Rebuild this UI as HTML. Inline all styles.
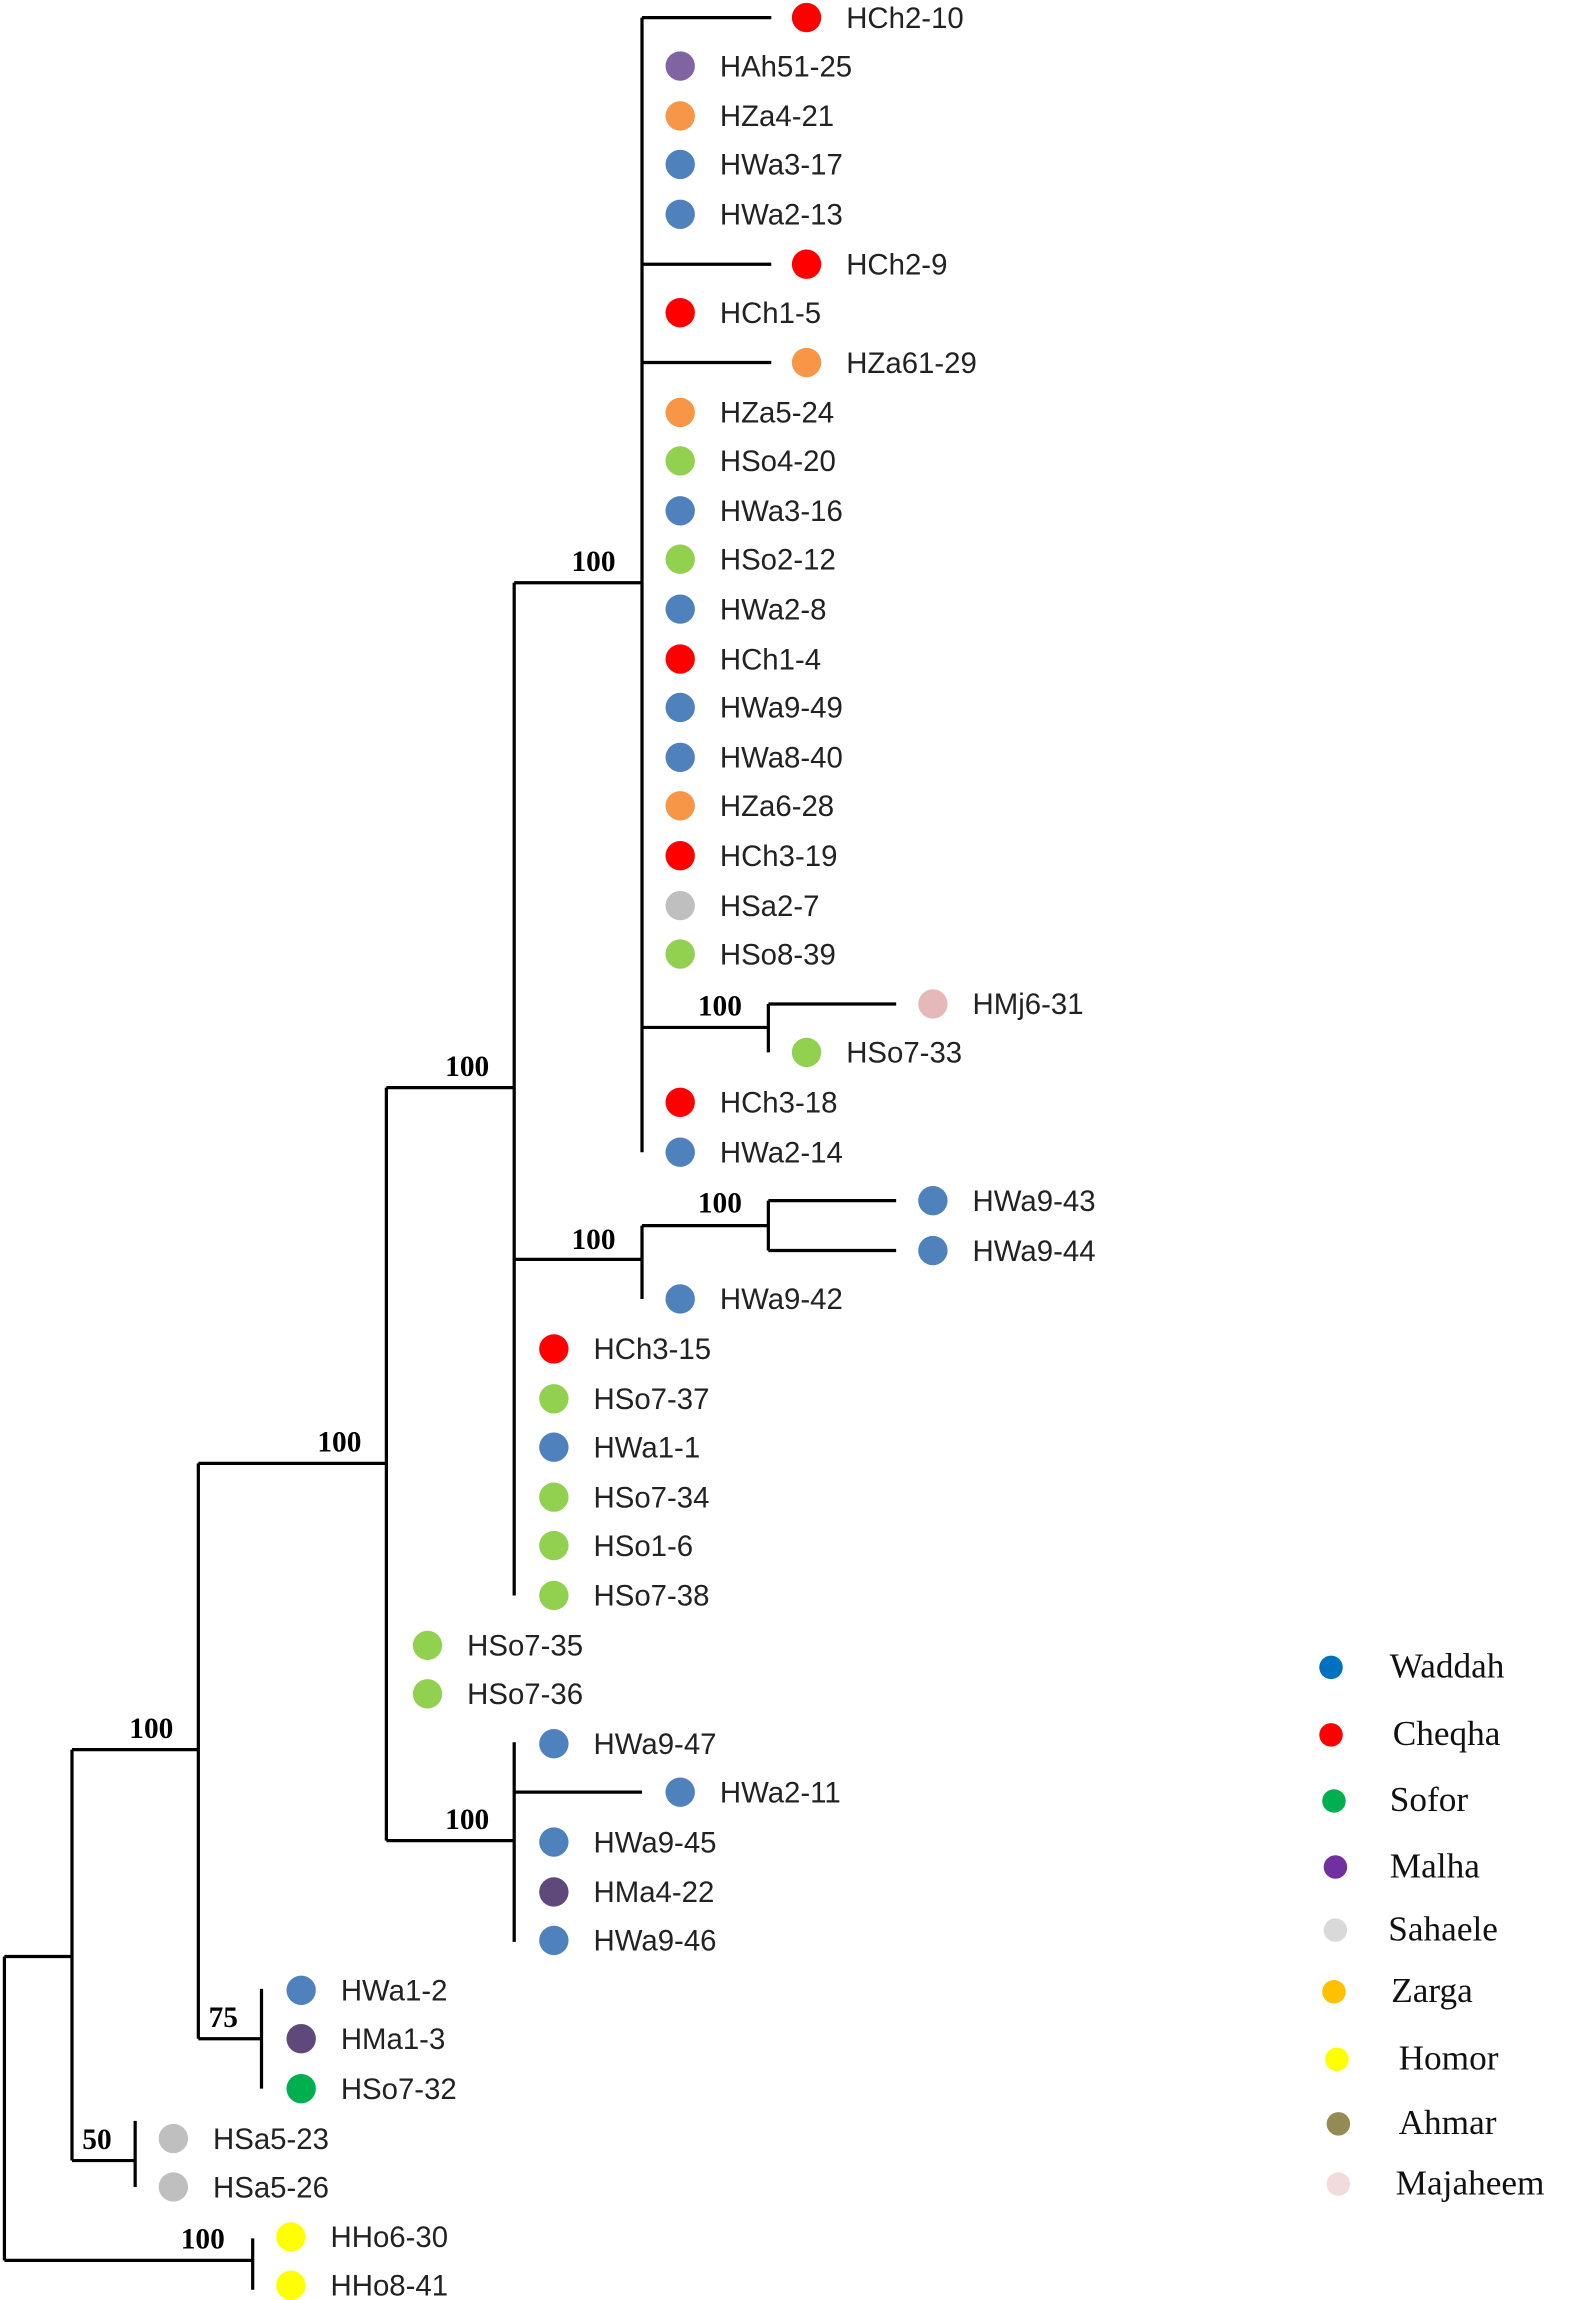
<!DOCTYPE html>
<html><head><meta charset="utf-8"><style>
html,body{margin:0;padding:0;background:#fff;}
svg{display:block;}
.l{font-family:"Liberation Sans",sans-serif;font-size:20px;fill:#222;}
.b{font-family:"Liberation Serif",serif;font-size:20px;font-weight:bold;fill:#000;}
.g{font-family:"Liberation Serif",serif;font-size:24px;fill:#111;}
</style></head><body>
<svg width="1594" height="2300" viewBox="0 0 1085 1567" preserveAspectRatio="none" xmlns="http://www.w3.org/2000/svg">
<g stroke="#000" stroke-width="2.2" fill="none">
<path d="M437 12V785M437 12H525M437 180H525M437 247H525M437 700H523M523 684V717M523 684H610"/>
<path d="M350 397H437M350 397V1087"/>
<path d="M350 858H437M437 835V885M437 835H523M523 818V852M523 818H610M523 852H610"/>
<path d="M263 741H350M263 741V1254M263 1254H350M350 1187V1323M350 1221H437"/>
<path d="M135 997H263M135 997V1389M135 1389H178M178 1355V1423"/>
<path d="M49 1192H135M49 1192V1472M49 1472H92M92 1445V1490"/>
<path d="M3 1333H49M3 1333V1540M3 1540H172M172 1525V1560"/>
</g>
<g class="b">
<text x="389" y="389">100</text>
<text x="303" y="733">100</text>
<text x="475" y="692">100</text>
<text x="389" y="851">100</text>
<text x="475" y="826">100</text>
<text x="216" y="989">100</text>
<text x="303" y="1246">100</text>
<text x="88" y="1184">100</text>
<text x="142" y="1381">75</text>
<text x="56" y="1464">50</text>
<text x="123" y="1532">100</text>
</g>
<g>
<circle cx="549" cy="12" r="10" fill="#ff0000"/><text class="l" x="576" y="19">HCh2-10</text>
<circle cx="463" cy="45" r="10" fill="#8064a2"/><text class="l" x="490" y="52">HAh51-25</text>
<circle cx="463" cy="79" r="10" fill="#f79646"/><text class="l" x="490" y="86">HZa4-21</text>
<circle cx="463" cy="112" r="10" fill="#4f81bd"/><text class="l" x="490" y="119">HWa3-17</text>
<circle cx="463" cy="146" r="10" fill="#4f81bd"/><text class="l" x="490" y="153">HWa2-13</text>
<circle cx="549" cy="180" r="10" fill="#ff0000"/><text class="l" x="576" y="187">HCh2-9</text>
<circle cx="463" cy="213" r="10" fill="#ff0000"/><text class="l" x="490" y="220">HCh1-5</text>
<circle cx="549" cy="247" r="10" fill="#f79646"/><text class="l" x="576" y="254">HZa61-29</text>
<circle cx="463" cy="281" r="10" fill="#f79646"/><text class="l" x="490" y="288">HZa5-24</text>
<circle cx="463" cy="314" r="10" fill="#92d050"/><text class="l" x="490" y="321">HSo4-20</text>
<circle cx="463" cy="348" r="10" fill="#4f81bd"/><text class="l" x="490" y="355">HWa3-16</text>
<circle cx="463" cy="381" r="10" fill="#92d050"/><text class="l" x="490" y="388">HSo2-12</text>
<circle cx="463" cy="415" r="10" fill="#4f81bd"/><text class="l" x="490" y="422">HWa2-8</text>
<circle cx="463" cy="449" r="10" fill="#ff0000"/><text class="l" x="490" y="456">HCh1-4</text>
<circle cx="463" cy="482" r="10" fill="#4f81bd"/><text class="l" x="490" y="489">HWa9-49</text>
<circle cx="463" cy="516" r="10" fill="#4f81bd"/><text class="l" x="490" y="523">HWa8-40</text>
<circle cx="463" cy="549" r="10" fill="#f79646"/><text class="l" x="490" y="556">HZa6-28</text>
<circle cx="463" cy="583" r="10" fill="#ff0000"/><text class="l" x="490" y="590">HCh3-19</text>
<circle cx="463" cy="617" r="10" fill="#bfbfbf"/><text class="l" x="490" y="624">HSa2-7</text>
<circle cx="463" cy="650" r="10" fill="#92d050"/><text class="l" x="490" y="657">HSo8-39</text>
<circle cx="635" cy="684" r="10" fill="#e6b9b8"/><text class="l" x="662" y="691">HMj6-31</text>
<circle cx="549" cy="717" r="10" fill="#92d050"/><text class="l" x="576" y="724">HSo7-33</text>
<circle cx="463" cy="751" r="10" fill="#ff0000"/><text class="l" x="490" y="758">HCh3-18</text>
<circle cx="463" cy="785" r="10" fill="#4f81bd"/><text class="l" x="490" y="792">HWa2-14</text>
<circle cx="635" cy="818" r="10" fill="#4f81bd"/><text class="l" x="662" y="825">HWa9-43</text>
<circle cx="635" cy="852" r="10" fill="#4f81bd"/><text class="l" x="662" y="859">HWa9-44</text>
<circle cx="463" cy="885" r="10" fill="#4f81bd"/><text class="l" x="490" y="892">HWa9-42</text>
<circle cx="377" cy="919" r="10" fill="#ff0000"/><text class="l" x="404" y="926">HCh3-15</text>
<circle cx="377" cy="953" r="10" fill="#92d050"/><text class="l" x="404" y="960">HSo7-37</text>
<circle cx="377" cy="986" r="10" fill="#4f81bd"/><text class="l" x="404" y="993">HWa1-1</text>
<circle cx="377" cy="1020" r="10" fill="#92d050"/><text class="l" x="404" y="1027">HSo7-34</text>
<circle cx="377" cy="1053" r="10" fill="#92d050"/><text class="l" x="404" y="1060">HSo1-6</text>
<circle cx="377" cy="1087" r="10" fill="#92d050"/><text class="l" x="404" y="1094">HSo7-38</text>
<circle cx="291" cy="1121" r="10" fill="#92d050"/><text class="l" x="318" y="1128">HSo7-35</text>
<circle cx="291" cy="1154" r="10" fill="#92d050"/><text class="l" x="318" y="1161">HSo7-36</text>
<circle cx="377" cy="1188" r="10" fill="#4f81bd"/><text class="l" x="404" y="1195">HWa9-47</text>
<circle cx="463" cy="1221" r="10" fill="#4f81bd"/><text class="l" x="490" y="1228">HWa2-11</text>
<circle cx="377" cy="1255" r="10" fill="#4f81bd"/><text class="l" x="404" y="1262">HWa9-45</text>
<circle cx="377" cy="1289" r="10" fill="#5f497a"/><text class="l" x="404" y="1296">HMa4-22</text>
<circle cx="377" cy="1322" r="10" fill="#4f81bd"/><text class="l" x="404" y="1329">HWa9-46</text>
<circle cx="205" cy="1356" r="10" fill="#4f81bd"/><text class="l" x="232" y="1363">HWa1-2</text>
<circle cx="205" cy="1389" r="10" fill="#5f497a"/><text class="l" x="232" y="1396">HMa1-3</text>
<circle cx="205" cy="1423" r="10" fill="#00b050"/><text class="l" x="232" y="1430">HSo7-32</text>
<circle cx="118" cy="1457" r="10" fill="#bfbfbf"/><text class="l" x="145" y="1464">HSa5-23</text>
<circle cx="118" cy="1490" r="10" fill="#bfbfbf"/><text class="l" x="145" y="1497">HSa5-26</text>
<circle cx="198" cy="1524" r="10" fill="#ffff00"/><text class="l" x="225" y="1531">HHo6-30</text>
<circle cx="198" cy="1557" r="10" fill="#ffff00"/><text class="l" x="225" y="1564">HHo8-41</text>
</g>
<g>
<circle cx="906" cy="1136" r="8" fill="#0070c0"/><text class="g" x="946" y="1143">Waddah</text>
<circle cx="906" cy="1182" r="8" fill="#ff0000"/><text class="g" x="948" y="1189">Cheqha</text>
<circle cx="908" cy="1227" r="8" fill="#00b050"/><text class="g" x="946" y="1234">Sofor</text>
<circle cx="909" cy="1272" r="8" fill="#7030a0"/><text class="g" x="946" y="1279">Malha</text>
<circle cx="909" cy="1315" r="8" fill="#d9d9d9"/><text class="g" x="945" y="1322">Sahaele</text>
<circle cx="908" cy="1357" r="8" fill="#ffc000"/><text class="g" x="947" y="1364">Zarga</text>
<circle cx="910" cy="1403" r="8" fill="#ffff00"/><text class="g" x="952" y="1410">Homor</text>
<circle cx="911" cy="1447" r="8" fill="#948a54"/><text class="g" x="952" y="1454">Ahmar</text>
<circle cx="911" cy="1488" r="8" fill="#f2dcdb"/><text class="g" x="950" y="1495">Majaheem</text>
</g>
</svg>
</body></html>
